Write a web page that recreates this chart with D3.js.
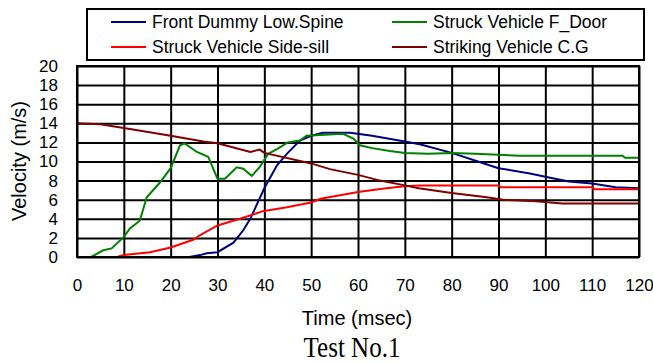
<!DOCTYPE html>
<html>
<head>
<meta charset="utf-8">
<script src="https://cdn.jsdelivr.net/npm/d3@7"></script>
<style>
  body { margin: 0; background: #fff; }
  svg { display: block; font-family: "Liberation Sans", Arial, sans-serif; }
</style>
</head>
<body>
<div id="chart"></div>
<script>
// tick labels
const xTicks = [0, 10, 20, 30, 40, 50, 60, 70, 80, 90, 100, 110, 120];
const yTicks = [0, 2, 4, 6, 8, 10, 12, 14, 16, 18, 20];

// series: [time (msec), velocity (m/s)]
const frontDummySpine = [
  [24, 0], [26.3, 0.2], [27.7, 0.4], [30, 0.5], [33.4, 1.5], [35.5, 2.8], [37, 4.0],
  [40, 7.2], [42.7, 9.6], [44.8, 10.8], [47.6, 12.2], [50, 12.7], [52.5, 13.0],
  [58.3, 13.0], [63, 12.7], [70, 12.1], [73.2, 11.8], [80, 10.9], [85.6, 10.0],
  [90, 9.3], [96.7, 8.75], [100, 8.4], [105, 7.9], [110, 7.7], [115, 7.3], [120, 7.2]
];
const struckFDoor = [
  [3, 0], [5.6, 0.7], [7.4, 0.9], [10, 2.1], [11.3, 3.0], [13.4, 3.8], [14.9, 6.25],
  [17.7, 7.8], [20, 9.3], [22, 11.7], [23, 11.9], [25.6, 11.0], [28, 10.5], [30, 8.2],
  [31.6, 8.2], [34.1, 9.4], [35.5, 9.25], [37.3, 8.5], [39, 9.4], [40.8, 10.8],
  [42.7, 11.3], [45, 12.0], [47.6, 12.2], [49, 12.7], [56.8, 12.9], [59, 12.4],
  [60.4, 11.7], [63, 11.4], [66.8, 11.1], [70, 10.9], [75, 10.8], [80, 10.9],
  [85, 10.8], [94.6, 10.6], [116.5, 10.6], [117, 10.4], [120, 10.4]
];
const struckSideSill = [
  [8.5, 0], [10, 0.2], [15.6, 0.5], [20, 1.0], [24.8, 1.8], [26.3, 2.3], [30, 3.3],
  [34.8, 4.0], [39.7, 4.8], [44.8, 5.2], [50, 5.7], [52, 6.1], [60, 6.8], [66, 7.2],
  [70, 7.4], [73, 7.5], [90, 7.5], [90.5, 7.3], [110, 7.3], [110.5, 7.1], [120, 7.1]
];
const strikingCG = [
  [0, 14], [5, 13.9], [10, 13.5], [20, 12.7], [27, 12.1], [30, 11.9], [37, 11.0], [39, 11.25],
  [40, 10.9], [50, 9.8], [54, 9.2], [60, 8.6], [64.7, 8.0], [70, 7.5], [73, 7.2],
  [80, 6.7], [87.5, 6.25], [91, 6.0], [98, 5.85], [103.6, 5.6], [120, 5.6]
];

const seriesNames = ["Front Dummy Low.Spine", "Struck Vehicle F_Door", "Struck Vehicle Side-sill", "Striking Vehicle C.G"];
const seriesData = [frontDummySpine, struckFDoor, struckSideSill, strikingCG];
const seriesColors = ["#000080", "#008000", "#ff0000", "#800000"];

const width = 653, height = 363;
const margin = { top: 66, right: 14, bottom: 106, left: 77 };
const plotW = width - margin.left - margin.right;
const plotH = height - margin.top - margin.bottom;

const svg = d3.select("#chart").append("svg")
  .attr("width", width)
  .attr("height", height);

const x = d3.scaleLinear().domain([0, 120]).range([0, plotW]);
const y = d3.scaleLinear().domain([0, 20]).range([plotH, 0]);

const g = svg.append("g")
  .attr("transform", `translate(${margin.left}, ${margin.top})`);

// grid
g.append("g")
  .attr("transform", `translate(0, ${plotH})`)
  .call(d3.axisBottom(x).tickValues(xTicks).tickSize(-plotH).tickFormat(""))
  .call(a => a.select(".domain").remove())
  .selectAll("line")
  .attr("stroke", "#000")
  .attr("stroke-width", 2);

g.append("g")
  .call(d3.axisLeft(y).tickValues(yTicks).tickSize(-plotW).tickFormat(""))
  .call(a => a.select(".domain").remove())
  .selectAll("line")
  .attr("stroke", "#000")
  .attr("stroke-width", 2);

// tick labels
g.append("g")
  .attr("transform", `translate(0, ${plotH})`)
  .call(d3.axisBottom(x).tickValues(xTicks).tickSize(0).tickPadding(22))
  .call(a => a.select(".domain").remove())
  .selectAll("text")
  .attr("font-size", 17)
  .attr("font-family", "Liberation Sans, Arial, sans-serif")
  .attr("fill", "#000");

g.append("g")
  .call(d3.axisLeft(y).tickValues(yTicks).tickSize(0).tickPadding(19))
  .call(a => a.select(".domain").remove())
  .selectAll("text")
  .attr("font-size", 17)
  .attr("font-family", "Liberation Sans, Arial, sans-serif")
  .attr("fill", "#000");

// lines
const line = d3.line()
  .x(d => x(d[0]))
  .y(d => y(d[1]));

g.selectAll(".series")
  .data(seriesData)
  .enter()
  .append("path")
  .attr("class", "series")
  .attr("d", line)
  .attr("fill", "none")
  .attr("stroke", (d, i) => seriesColors[i])
  .attr("stroke-width", 2);

// frame
g.append("rect")
  .attr("width", plotW)
  .attr("height", plotH)
  .attr("fill", "none")
  .attr("stroke", "#000")
  .attr("stroke-width", 2);

// axis titles
svg.append("text")
  .attr("transform", "translate(26, 161) rotate(-90)")
  .attr("text-anchor", "middle")
  .attr("font-size", 20)
  .text("Velocity (m/s)");

svg.append("text")
  .attr("x", 357)
  .attr("y", 325)
  .attr("text-anchor", "middle")
  .attr("font-size", 20)
  .text("Time (msec)");

svg.append("text")
  .attr("transform", "translate(352, 357) scale(1, 1.2)")
  .attr("text-anchor", "middle")
  .attr("font-family", "Liberation Serif, Times New Roman, serif")
  .attr("font-size", 25)
  .text("Test No.1");

// legend
const legend = svg.append("g");
legend.append("rect")
  .attr("x", 87)
  .attr("y", 9)
  .attr("width", 557)
  .attr("height", 51)
  .attr("fill", "#fff")
  .attr("stroke", "#000")
  .attr("stroke-width", 2);

const legendCols = [111, 392];
const legendRows = [22, 47];
const items = legend.selectAll(".item")
  .data(seriesNames)
  .enter()
  .append("g")
  .attr("class", "item")
  .attr("transform", (d, i) => `translate(${legendCols[i % 2]}, ${legendRows[Math.floor(i / 2)]})`);

items.append("line")
  .attr("x1", 0)
  .attr("x2", 35)
  .attr("stroke", (d, i) => seriesColors[i])
  .attr("stroke-width", 2);

items.append("text")
  .attr("x", 41)
  .attr("dy", "0.35em")
  .attr("font-size", 17.5)
  .text(d => d);
</script>
</body>
</html>
